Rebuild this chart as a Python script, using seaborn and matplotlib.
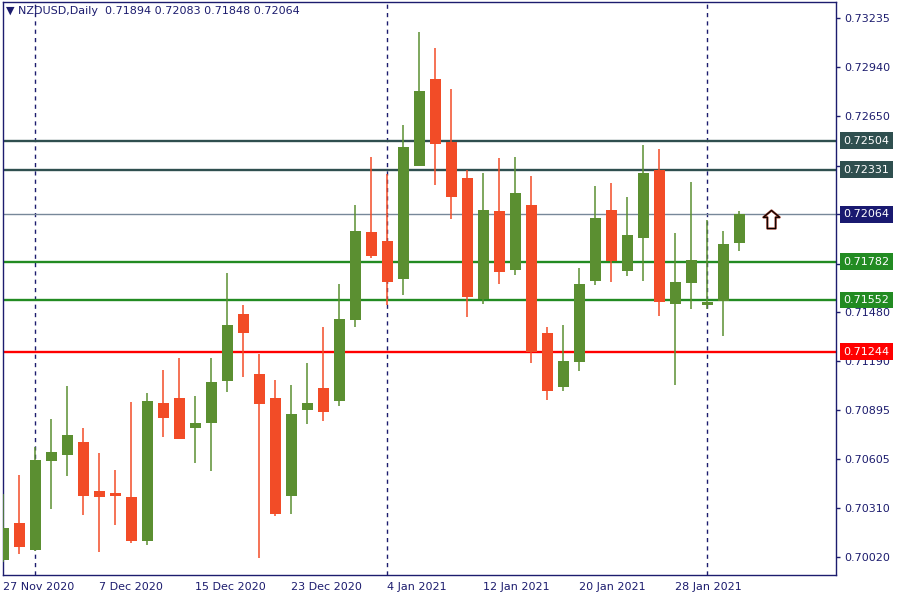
import numpy as np
import pandas as pd
import matplotlib
matplotlib.use("Agg")
import matplotlib.pyplot as plt
from matplotlib.path import Path
from matplotlib.transforms import blended_transform_factory
import seaborn as sns

# --- data: NZDUSD daily candles ---
dates = [
    "2020-11-27", "2020-11-30", "2020-12-01", "2020-12-02", "2020-12-03", "2020-12-04",
    "2020-12-07", "2020-12-08", "2020-12-09", "2020-12-10", "2020-12-11", "2020-12-14",
    "2020-12-15", "2020-12-16", "2020-12-17", "2020-12-18", "2020-12-21", "2020-12-22",
    "2020-12-23", "2020-12-24", "2020-12-28", "2020-12-29", "2020-12-30", "2020-12-31",
    "2021-01-04", "2021-01-05", "2021-01-06", "2021-01-07", "2021-01-08", "2021-01-11",
    "2021-01-12", "2021-01-13", "2021-01-14", "2021-01-15", "2021-01-18", "2021-01-19",
    "2021-01-20", "2021-01-21", "2021-01-22", "2021-01-25", "2021-01-26", "2021-01-27",
    "2021-01-28", "2021-01-29", "2021-02-01", "2021-02-02", "2021-02-03",
]
opens = [
    0.70002, 0.70223, 0.70062, 0.70593, 0.70628, 0.70706,
    0.70414, 0.70402, 0.70378, 0.70115, 0.70939, 0.70968,
    0.70789, 0.70819, 0.71070, 0.71469, 0.71112, 0.70968,
    0.70384, 0.70897, 0.71028, 0.70950, 0.71434, 0.71959,
    0.71905, 0.71678, 0.72352, 0.72871, 0.72495, 0.72281,
    0.71559, 0.72084, 0.71732, 0.72120, 0.71356, 0.71034,
    0.71183, 0.71666, 0.72090, 0.71726, 0.71923, 0.72328,
    0.71529, 0.71654, 0.71523, 0.71547, 0.71894,
]
highs = [
    0.70396, 0.70509, 0.70676, 0.70843, 0.71040, 0.70789,
    0.70640, 0.70539, 0.70944, 0.70998, 0.71135, 0.71207,
    0.70980, 0.71207, 0.71714, 0.71523, 0.71231, 0.71076,
    0.71046, 0.71177, 0.71392, 0.71648, 0.72120, 0.72406,
    0.72305, 0.72597, 0.73152, 0.73056, 0.72812, 0.72328,
    0.72310, 0.72400, 0.72406, 0.72293, 0.71392, 0.71404,
    0.71744, 0.72233, 0.72251, 0.72167, 0.72477, 0.72454,
    0.71953, 0.72257, 0.72030, 0.71965, 0.72083,
]
lows = [
    0.69990, 0.70038, 0.70056, 0.70306, 0.70503, 0.70270,
    0.70050, 0.70211, 0.70103, 0.70092, 0.70736, 0.70722,
    0.70581, 0.70533, 0.71004, 0.71094, 0.70014, 0.70265,
    0.70276, 0.70813, 0.70831, 0.70921, 0.71392, 0.71803,
    0.71523, 0.71583, 0.72350, 0.72239, 0.72036, 0.71452,
    0.71529, 0.71648, 0.71702, 0.71177, 0.70956, 0.71010,
    0.71129, 0.71642, 0.71660, 0.71696, 0.71666, 0.71457,
    0.71046, 0.71499, 0.71499, 0.71338, 0.71848,
]
closes = [
    0.70193, 0.70080, 0.70599, 0.70646, 0.70748, 0.70384,
    0.70378, 0.70382, 0.70115, 0.70950, 0.70849, 0.70724,
    0.70819, 0.71064, 0.71404, 0.71356, 0.70933, 0.70276,
    0.70873, 0.70939, 0.70885, 0.71440, 0.71965, 0.71815,
    0.71660, 0.72466, 0.72800, 0.72483, 0.72167, 0.71571,
    0.72090, 0.71720, 0.72191, 0.71243, 0.71010, 0.71189,
    0.71648, 0.72042, 0.71786, 0.71941, 0.72310, 0.71541,
    0.71660, 0.71792, 0.71541, 0.71887, 0.72064,
]

# horizontal levels and their colours
level_prices = [0.72504, 0.72331, 0.71782, 0.71552, 0.71244]
level_colors = ["#2F4F4F", "#2F4F4F", "#228B22", "#228B22", "#FF0000"]
bid_price = 0.72064

price_ticks = [0.73235, 0.72940, 0.72650, 0.72355, 0.72065, 0.71770,
               0.71480, 0.71190, 0.70895, 0.70605, 0.70310, 0.70020]

arrow_bar = 48
arrow_price = 0.72038

# --- style ---
sns.set_style("white")
plt.rcParams["font.family"] = ["DejaVu Sans"]
NAVY = "#1C1C6E"
GREEN = "#5B8F31"
RED = "#F24C27"

df = pd.DataFrame({"date": pd.to_datetime(dates), "open": opens, "high": highs,
                   "low": lows, "close": closes})
df["idx"] = np.arange(len(df))
df["up"] = df["close"] >= df["open"]
df["color"] = np.where(df["up"], GREEN, RED)
df["body_lo"] = df[["open", "close"]].min(axis=1)
df["body_h"] = (df["close"] - df["open"]).abs().clip(lower=0.00005)

fig = plt.figure(figsize=(9, 6), dpi=100)
ax = fig.add_axes([3 / 900, 25 / 600, 833 / 900, 573 / 600])

# month separators (first bar of a new month)
new_month = df["date"].dt.month != df["date"].dt.month.shift()
for i in df.loc[new_month, "idx"].iloc[1:]:
    ax.axvline(i, color=NAVY, lw=1, ls=(0, (3, 3)), zorder=1)

# levels
for p, c in zip(level_prices, level_colors):
    ax.axhline(p, color=c, lw=1.7, zorder=2)
ax.axhline(bid_price, color="#778899", lw=1, zorder=2)

# candles
ax.vlines(df["idx"], df["low"], df["high"], colors=df["color"], lw=1.1, zorder=3)
ax.bar(df["idx"], df["body_h"], bottom=df["body_lo"], width=0.69,
       color=df["color"], linewidth=0, zorder=4)

# up arrow marker
arrow_path = Path([(0, 9.2), (8.3, 2.2), (4.2, 2.2), (4.2, -9.2), (-4.2, -9.2),
                   (-4.2, 2.2), (-8.3, 2.2), (0, 9.2)], closed=True)
ax.plot([arrow_bar], [arrow_price], marker=arrow_path, markersize=13,
        markerfacecolor="white", markeredgecolor="#8B2F20", markeredgewidth=1.6,
        zorder=5, clip_on=False)
ax.plot([arrow_bar], [arrow_price], marker=arrow_path, markersize=13,
        markerfacecolor="none", markeredgecolor="black", markeredgewidth=0.7,
        zorder=6, clip_on=False)

# axes limits and ticks
ax.set_xlim(-0.02, 52.04)
ax.set_ylim(0.699125, 0.733305)

box_prices = level_prices + [bid_price]
box_colors = level_colors + ["#191970"]

ax.yaxis.tick_right()
ax.set_yticks(price_ticks)
# labels that sit fully under a price box are hidden there, so leave them blank
ax.set_yticklabels(["" if min(abs(p - b) for b in box_prices) < 0.00018 else f"{p:.5f}"
                    for p in price_ticks])
xt = df["idx"].iloc[::6]
ax.set_xticks(xt)
ax.set_xticklabels([f"{d.day} {d.strftime('%b %Y')}" for d in df["date"].iloc[::6]],
                   ha="left")
ax.tick_params(axis="both", direction="out", length=3, width=1, colors=NAVY,
               labelsize=8, pad=2)
ax.tick_params(axis="y", pad=3)
for s in ax.spines.values():
    s.set_color(NAVY)
    s.set_linewidth(1)
ax.set_xlabel("")
ax.set_ylabel("")

# price boxes on the right axis
tr = blended_transform_factory(ax.transAxes, ax.transData)
for p, c in zip(box_prices, box_colors):
    ax.annotate(f"{p:.5f}", xy=(1, p), xycoords=tr, xytext=(5.5, 0),
                textcoords="offset points", ha="left", va="center", fontsize=8,
                color="white", zorder=10, annotation_clip=False,
                bbox=dict(boxstyle="square,pad=0.3", fc=c, ec="none"))

# header
ax.text(0.004, 0.985, "\u25BC NZDUSD,Daily  0.71894 0.72083 0.71848 0.72064",
        transform=ax.transAxes, ha="left", va="center", fontsize=8, color=NAVY)

fig.savefig("out.png", dpi=100)
